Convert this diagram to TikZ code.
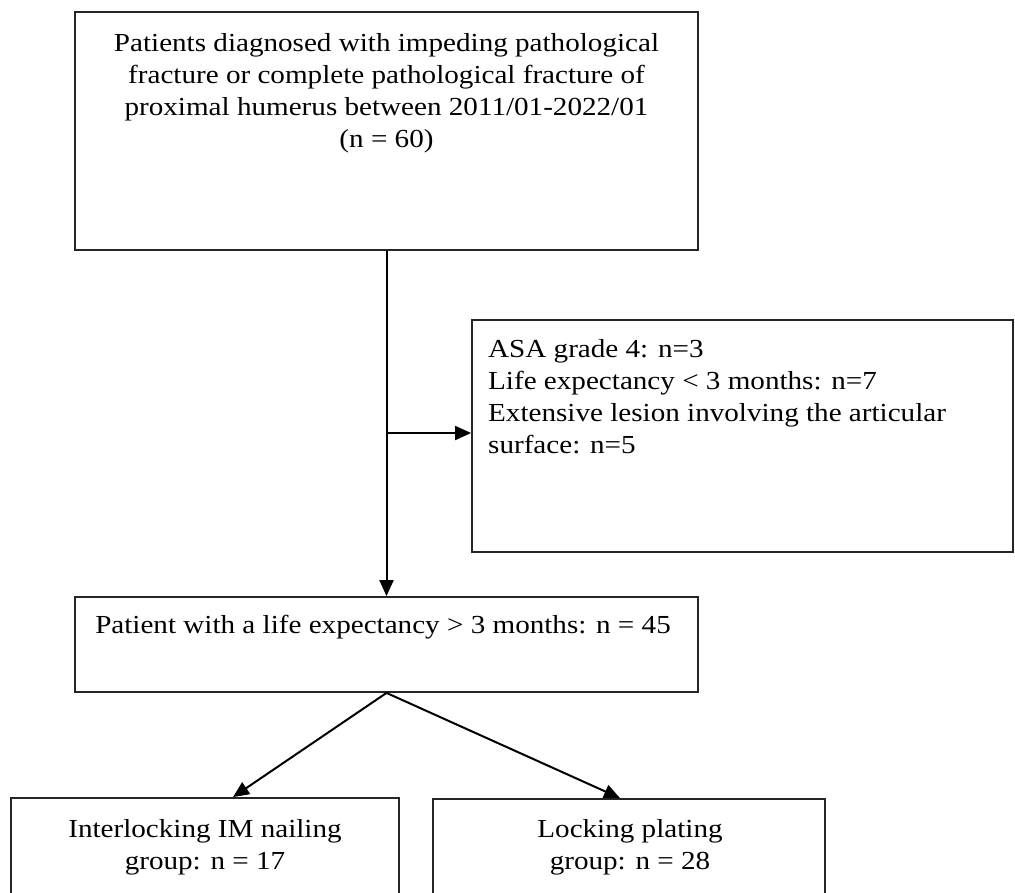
\documentclass[tikz,border=0pt]{standalone}
\usepackage{fontspec}
\setmainfont{Liberation Serif}[FakeStretch=1.12]
\usetikzlibrary{arrows.meta,calc}
\begin{document}
\begin{tikzpicture}[x=1pt,y=-1pt,
  box/.style={draw=black!85,line width=1.8pt,minimum width=#1,inner sep=0pt},
  txt/.style={font=\fontsize{26}{32}\selectfont,inner sep=0pt},
  conn/.style={line width=2pt,-{Triangle[length=16pt,width=14pt]}}]
\useasboundingbox (0,0) rectangle (1015,892);
\clip (0,0) rectangle (1015,892);
\node[box=623pt,minimum height=238pt] (b1) at (386.5,131) {};
\node[box=541pt,minimum height=232pt] (b2) at (742.5,436) {};
\node[box=623pt,minimum height=95pt] (b3) at (386.5,644.5) {};
\node[box=388pt,minimum height=104pt] (b4) at (205,850) {};
\node[box=392pt,minimum height=104pt] (b5) at (629,851) {};
% anchor=base is the baseline of the last line
\node[txt,align=center,anchor=base] (t1) at (386.5,147) {Patients diagnosed with impeding pathological\\fracture or complete pathological fracture of\\proximal humerus between 2011/01-2022/01\\(n = 60)};
\node[txt,align=left,anchor=base west] (t2) at (488,453) {ASA grade 4: n=3\\Life expectancy < 3 months: n=7\\Extensive lesion involving the articular\\surface: n=5};
\node[txt,anchor=base] (t3) at (383,633) {Patient with a life expectancy > 3 months: n = 45};
\node[txt,align=center,anchor=base] (t4) at (205,869) {Interlocking IM nailing\\group: n = 17};
\node[txt,align=center,anchor=base] (t5) at (630,869) {Locking plating\\group: n = 28};
\draw[conn] (b1.south) -- (b3.north);
\draw[conn] (b1.south |- 0,433) -- (b2.west |- 0,433);
\draw[conn] (b3.south) -- ($(b4.north)+(28,0)$);
\draw[conn] (b3.south) -- ($(b5.north)+(-9,0)$);
\end{tikzpicture}
\end{document}
